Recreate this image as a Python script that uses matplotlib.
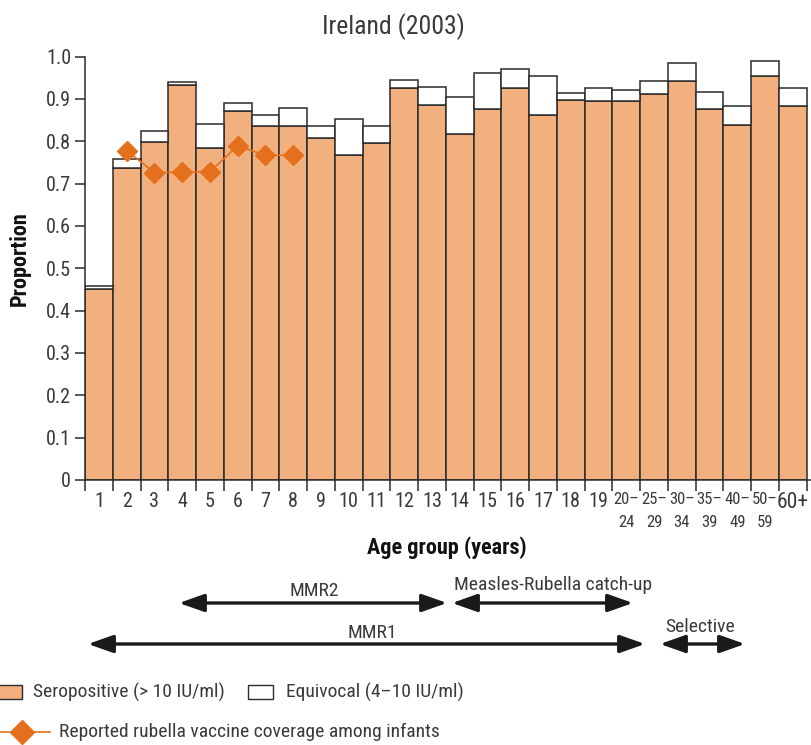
import numpy as np
import matplotlib
matplotlib.use("Agg")
import matplotlib.pyplot as plt
from matplotlib import font_manager
from matplotlib.patches import Rectangle
from matplotlib.lines import Line2D

# ---------------- data ----------------
age_groups = ["1", "2", "3", "4", "5", "6", "7", "8", "9", "10", "11", "12", "13",
              "14", "15", "16", "17", "18", "19", "20–\n24", "25–\n29", "30–\n34",
              "35–\n39", "40–\n49", "50–\n59", "60+"]
seropositive = [0.450, 0.737, 0.798, 0.932, 0.785, 0.871, 0.836, 0.835, 0.808, 0.767,
                0.795, 0.926, 0.886, 0.816, 0.877, 0.926, 0.863, 0.897, 0.895, 0.895,
                0.912, 0.942, 0.877, 0.838, 0.954, 0.883]
equivocal = [0.007, 0.020, 0.027, 0.008, 0.055, 0.020, 0.027, 0.043, 0.028, 0.085,
             0.041, 0.019, 0.042, 0.088, 0.084, 0.044, 0.092, 0.016, 0.031, 0.025,
             0.030, 0.042, 0.040, 0.045, 0.035, 0.042]
coverage_ages = ["2", "3", "4", "5", "6", "7", "8"]
coverage = [0.778, 0.726, 0.727, 0.728, 0.789, 0.767, 0.767]
yticks = [0.0, 0.1, 0.2, 0.3, 0.4, 0.5, 0.6, 0.7, 0.8, 0.9, 1.0]
ytick_labels = ["0", "0.1", "0.2", "0.3", "0.4", "0.5", "0.6", "0.7", "0.8", "0.9", "1.0"]

# ---------------- fonts ----------------
available = {f.name for f in font_manager.fontManager.ttflist}
fam = ["DejaVu Sans"]
for cand in ["Liberation Sans Narrow", "Roboto Condensed", "Open Sans Condensed"]:
    if cand in available:
        fam = [cand, "DejaVu Sans"]
        break
plt.rcParams["font.family"] = fam

SERO = "#F2B07E"
ORANGE = "#E4701E"
EDGE = "#2b2b2b"
TXT = "#3a3a3a"
FS = 14

W, H = 812, 745
fig = plt.figure(figsize=(W / 100, H / 100), dpi=100)


def fx(px):
    return px / W


def fy(py):
    return 1 - py / H


ax = fig.add_axes([fx(85), fy(480), fx(812) - fx(85), fy(56.5) - fy(480)])
x = np.arange(len(age_groups))
ax.bar(x, seropositive, width=1.0, color=SERO, edgecolor=EDGE, linewidth=1.1, zorder=2)
ax.bar(x, equivocal, bottom=seropositive, width=1.0, color="white",
       edgecolor=EDGE, linewidth=1.1, zorder=2)
cov_x = [age_groups.index(a) for a in coverage_ages]
ax.plot(cov_x, coverage, color=ORANGE, marker="D", markersize=10.5, lw=1.2, zorder=3)

bar_px = (806.7 - 85) / len(age_groups)
ax.set_xlim(-0.5, len(age_groups) - 0.5 + (812 - 806.7) / bar_px)
ax.set_ylim(0, 1.0)
for s in ["top", "right"]:
    ax.spines[s].set_visible(False)
ax.spines["left"].set_bounds(0, 1.0)
ax.spines["left"].set_color(EDGE)
ax.spines["bottom"].set_color(EDGE)
ax.spines["left"].set_linewidth(1.1)
ax.spines["bottom"].set_linewidth(1.1)

ax.set_yticks(yticks)
ax.set_yticklabels(ytick_labels)
ax.tick_params(axis="y", direction="out", length=7, width=1.1, color=EDGE,
               labelcolor=TXT, labelsize=14.5, pad=3)

ax.set_xticks(x)
ax.set_xticklabels(age_groups)
ax.set_xticks(np.arange(-0.5, len(age_groups), 1.0), minor=True)
ax.tick_params(axis="x", which="major", length=0, pad=9, labelcolor=TXT, labelsize=14.5)
ax.tick_params(axis="x", which="minor", direction="out", length=8, width=1.1, color=EDGE)
for lbl in ax.get_xticklabels():
    if "\n" in lbl.get_text():
        lbl.set_fontsize(12)
        lbl.set_linespacing(1.6)
    if lbl.get_text() == "60+":
        lbl.set_fontsize(15.5)

# titles / axis labels
fig.text(fx(393), fy(27), "Ireland (2003)", fontsize=18.5, color=TXT, ha="center", va="center")
fig.text(fx(20), fy(259), "Proportion", fontsize=16, fontweight="bold", color="#111111",
         rotation=90, ha="center", va="center")
fig.text(fx(447), fy(548), "Age group (years)", fontsize=16, fontweight="bold",
         color="#111111", ha="center", va="center")


# programme arrows
def px2data(px):
    return (px - 85) / bar_px - 0.5


def darrow(x0px, x1px, ypx):
    ax.annotate("", xy=(px2data(x1px), fy(ypx)), xytext=(px2data(x0px), fy(ypx)),
                xycoords=("data", "figure fraction"), textcoords=("data", "figure fraction"),
                annotation_clip=False,
                arrowprops=dict(arrowstyle="<|-|>,head_length=0.85,head_width=0.3",
                                mutation_scale=18, lw=2.4, color="#1a1a1a",
                                shrinkA=0, shrinkB=0))


darrow(179, 447, 603)
darrow(452, 633, 603)
darrow(88, 645, 644)
darrow(660, 745, 644)
fig.text(fx(314), fy(591), "MMR2", fontsize=FS, color=TXT, ha="center", va="center")
fig.text(fx(553), fy(585), "Measles-Rubella catch-up", fontsize=FS, color=TXT,
         ha="center", va="center")
fig.text(fx(372), fy(633), "MMR1", fontsize=FS, color=TXT, ha="center", va="center")
fig.text(fx(700), fy(627), "Selective", fontsize=FS, color=TXT, ha="center", va="center")

# legend (manual)
fig.add_artist(Rectangle((fx(-6), fy(699)), fx(27.7), fy(685) - fy(699),
                         transform=fig.transFigure, facecolor=SERO, edgecolor=EDGE, lw=1.0))
fig.text(fx(33), fy(692.5), "Seropositive (> 10 IU/ml)", fontsize=FS, color=TXT,
         ha="left", va="center")
fig.add_artist(Rectangle((fx(248), fy(699)), fx(25), fy(685) - fy(699),
                         transform=fig.transFigure, facecolor="white", edgecolor=EDGE, lw=1.0))
fig.text(fx(286.5), fy(692.5), "Equivocal (4–10 IU/ml)", fontsize=FS, color=TXT,
         ha="left", va="center")
fig.add_artist(Line2D([fx(0), fx(50)], [fy(731.7), fy(731.7)], transform=fig.transFigure,
                      color=ORANGE, lw=1.2))
fig.add_artist(Line2D([fx(21.7)], [fy(731.7)], transform=fig.transFigure, color=ORANGE,
                      marker="D", markersize=12, lw=0))
fig.text(fx(59), fy(731.7), "Reported rubella vaccine coverage among infants", fontsize=FS,
         color=TXT, ha="left", va="center")

fig.savefig("out.png", dpi=100)
